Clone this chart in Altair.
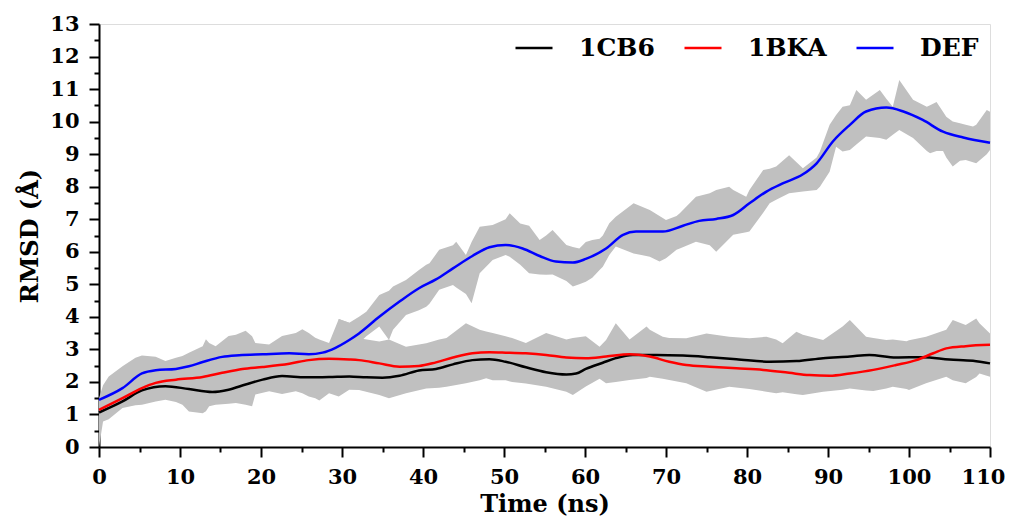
import altair as alt
import pandas as pd

# ---------------- smoothed RMSD curves ----------------
def_t = [0, 2.9, 5.3, 7, 9.5, 11.1, 12.8, 15.2, 17.3, 20.2, 23.5, 25.9, 27.6, 29.2, 30.9,
         32.1, 34.6, 37.1, 39.5, 41.6, 43.7, 46.1, 48.2, 50.2, 52.3, 54.4, 56.4, 58.5, 60.1,
         62.6, 64.7, 66.3, 69.6, 72.1, 74.1, 76.2, 78.3, 80.3, 82.4, 84.4, 86.9, 88.6, 90.6,
         92.7, 94.7, 97.2, 99.3, 101.7, 104.2, 106.7, 110]
def_v = [1.45, 1.81, 2.26, 2.36, 2.40, 2.48, 2.61, 2.77, 2.82, 2.85, 2.88, 2.85, 2.90, 3.05, 3.29,
         3.49, 4.00, 4.47, 4.88, 5.15, 5.49, 5.87, 6.14, 6.21, 6.10, 5.87, 5.70, 5.67, 5.78,
         6.10, 6.52, 6.62, 6.62, 6.80, 6.95, 7.01, 7.13, 7.49, 7.85, 8.10, 8.38, 8.72, 9.39,
         9.90, 10.31, 10.43, 10.31, 10.05, 9.69, 9.51, 9.35]

bka_t = [0, 2.9, 5.3, 7, 9.5, 12.8, 15.2, 17.7, 20.2, 23.5, 25.9, 28.4, 30.9, 32.1, 34.6, 37.1,
         39.5, 41.6, 43.7, 46.1, 48.2, 50.2, 52.7, 55.2, 57.7, 60.1, 62.6, 65.5, 68, 70.4, 72.5,
         75.4, 78.7, 82, 85.2, 87.7, 90.2, 92.7, 95.6, 98.4, 100.9, 103, 104.6, 107, 110]
bka_v = [1.14, 1.50, 1.81, 1.97, 2.07, 2.15, 2.28, 2.40, 2.46, 2.56, 2.67, 2.71, 2.69, 2.67, 2.57, 2.47,
         2.49, 2.60, 2.75, 2.88, 2.91, 2.90, 2.88, 2.83, 2.75, 2.73, 2.78, 2.85, 2.78, 2.62, 2.52,
         2.47, 2.42, 2.37, 2.28, 2.21, 2.19, 2.26, 2.37, 2.52, 2.67, 2.88, 3.03, 3.10, 3.14]

cb6_t = [0, 2.9, 5.3, 8.2, 11.1, 14, 16, 18.1, 20.2, 22.6, 25.5, 28.4, 30.9, 33, 35, 37.1, 39.5,
         41.6, 43.7, 46.1, 48.2, 50.2, 52.7, 55.2, 57.7, 58.9, 60.1, 62.2, 63.8, 65.9, 68.8, 72.1,
         75.4, 78.7, 82.8, 86.1, 89.4, 92.7, 95.1, 98.4, 101.7, 105, 107.9, 110]
cb6_v = [1.06, 1.40, 1.74, 1.87, 1.78, 1.69, 1.76, 1.92, 2.07, 2.18, 2.14, 2.15, 2.17, 2.14, 2.13, 2.19, 2.35,
         2.40, 2.54, 2.67, 2.70, 2.62, 2.45, 2.30, 2.23, 2.26, 2.40, 2.59, 2.73, 2.83, 2.83, 2.81,
         2.76, 2.70, 2.62, 2.64, 2.73, 2.78, 2.83, 2.75, 2.76, 2.69, 2.65, 2.57]

# ---------------- raw-data envelopes (gray) ----------------
low_t = [0, 0.5, 1.2, 2.9, 4.5, 5.3, 7, 8.2, 9.5, 10.3, 11.1, 12.8, 13.2, 13.6, 14.4, 16, 16.9, 18.1,
         18.9, 19.3, 21, 22.6, 24.3, 25.1, 25.9, 26.7, 27.2, 28.4, 29.6, 30.9, 32.1, 34.6, 35.8, 37.9,
         40.4, 42, 42.9, 45.3, 47, 47.8, 48.6, 50.2, 51, 52.7, 55.2, 57.7, 58.5, 60.1, 61.8, 62.6,
         63.8, 65.5, 67.6, 68, 69.6, 70.4, 72.5, 75, 77.8, 80.3, 81.1, 82.4, 83.6, 84.4, 86.1, 86.9,
         89.4, 91.8, 92.7, 94.7, 95.6, 97.2, 98, 99.7, 100, 102.1, 104.6, 105.4, 107, 108.3, 108.7, 110]
low_lo = [0.0, 0.78, 0.85, 1.20, 1.28, 1.30, 1.40, 1.45, 1.38, 1.30, 1.09, 1.04, 1.10, 1.25, 1.30, 1.33, 1.35, 1.30,
          1.25, 1.61, 1.71, 1.63, 1.71, 1.65, 1.55, 1.50, 1.43, 1.65, 1.55, 1.76, 1.75, 1.60, 1.50, 1.65,
          1.80, 1.82, 1.85, 1.96, 2.05, 2.11, 2.05, 2.05, 2.00, 1.95, 1.85, 1.70, 1.60, 1.86, 2.10, 1.96,
          2.00, 2.06, 2.12, 2.16, 2.10, 2.06, 1.96, 1.70, 1.85, 1.78, 1.75, 1.70, 1.65, 1.68, 1.62, 1.60,
          1.70, 1.76, 1.80, 1.74, 1.72, 1.80, 1.85, 1.78, 1.75, 1.96, 2.16, 2.05, 1.96, 2.15, 2.26, 2.16]
low_hi = [1.50, 1.90, 2.17, 2.48, 2.74, 2.81, 2.77, 2.64, 2.74, 2.80, 2.90, 3.10, 3.31, 3.20, 3.10, 3.41, 3.45, 3.57,
          3.40, 3.20, 3.15, 3.41, 3.50, 3.62, 3.50, 3.36, 3.30, 3.20, 3.93, 3.82, 3.34, 3.24, 3.30, 3.08,
          3.19, 3.30, 3.35, 3.80, 3.60, 3.55, 3.50, 3.40, 3.35, 3.20, 3.50, 3.30, 3.35, 3.40, 3.08, 3.29,
          3.80, 3.30, 3.70, 3.60, 3.39, 3.35, 3.34, 3.49, 3.39, 3.34, 3.36, 3.39, 3.30, 3.19, 3.54, 3.45,
          3.29, 3.70, 3.90, 3.39, 3.35, 3.29, 3.30, 3.25, 3.28, 3.39, 3.60, 3.90, 3.75, 3.95, 3.80, 3.49]

def_band_t = [29.6, 30.9, 32.1, 33, 34.6, 35.8, 36.3, 37.9, 39.5, 40.4, 40.8, 42, 43.7, 44.1, 45.3, 46,
              47, 48.6, 50.2, 50.7, 52, 53.1, 54.4, 55.2, 56, 57.7, 58.5, 59.3, 60.1, 60.9, 61.8, 62.2,
              63, 63.8, 66, 68, 69.2, 70, 71.3, 71.7, 73.7, 75.4, 76.2, 77.8, 78.3, 79.9, 80.3, 82,
              82.8, 83.6, 85.2, 86.9, 88.6, 89, 90.2, 91, 91.8, 92.7, 93.5, 94.7, 96.4, 97.2, 98, 98.8,
              100.5, 102.2, 102.6, 103.4, 104.2, 104.6, 105.4, 106.3, 107, 107.9, 108.3, 109.6, 110]
def_band_lo = [2.90, 3.00, 3.19, 3.40, 3.70, 3.29, 3.60, 4.06, 4.20, 4.31, 4.40, 4.83, 4.98, 4.90, 4.70, 4.42,
               5.34, 5.75, 5.90, 5.85, 5.60, 5.34, 5.30, 5.29, 5.30, 5.10, 4.93, 5.00, 5.08, 5.20, 5.44, 5.54,
               5.90, 6.16, 5.95, 5.85, 5.70, 5.80, 6.06, 6.10, 6.31, 6.20, 6.00, 6.40, 6.52, 6.60, 6.62, 7.20,
               7.49, 7.60, 7.80, 7.85, 7.90, 8.00, 8.46, 9.23, 9.08, 9.13, 9.30, 9.54, 9.50, 9.44, 9.60, 9.74,
               9.50, 9.10, 9.03, 9.10, 9.10, 8.90, 8.62, 8.80, 8.82, 8.75, 8.72, 9.00, 9.13]
def_band_hi = [3.93, 3.82, 4.00, 4.16, 4.67, 4.80, 4.93, 5.13, 5.44, 5.60, 5.65, 6.06, 6.20, 6.31, 5.90, 6.30,
               6.77, 6.82, 7.00, 7.18, 6.87, 6.80, 6.36, 6.50, 6.67, 6.21, 6.15, 6.10, 6.30, 6.36, 6.40, 6.50,
               6.88, 7.08, 7.49, 7.28, 7.10, 6.98, 7.10, 7.18, 7.69, 7.80, 7.90, 8.00, 7.90, 7.69, 7.90, 8.51,
               8.55, 8.62, 8.97, 8.57, 8.90, 9.08, 9.90, 10.20, 10.46, 10.50, 10.97, 10.67, 10.97, 10.70, 10.46, 11.28,
               10.67, 10.46, 10.50, 10.60, 10.30, 10.15, 10.00, 9.95, 9.90, 9.85, 9.90, 10.36, 10.30]

series_names = ["1CB6", "1BKA", "DEF"]
series_colors = ["#000000", "#ff0000", "#0000ff"]
x_major = list(range(0, 111, 10))
x_minor = list(range(5, 110, 10))
y_major = list(range(0, 14))
y_minor = [i + 0.5 for i in range(0, 13)]

lines_df = pd.concat([
    pd.DataFrame({"t": cb6_t, "v": cb6_v, "s": "1CB6"}),
    pd.DataFrame({"t": bka_t, "v": bka_v, "s": "1BKA"}),
    pd.DataFrame({"t": def_t, "v": def_v, "s": "DEF"}),
], ignore_index=True)
low_df = pd.DataFrame({"t": low_t, "lo": low_lo, "hi": low_hi})
defb_df = pd.DataFrame({"t": def_band_t, "lo": def_band_lo, "hi": def_band_hi})

FONT = "DejaVu Serif"
xs = alt.Scale(domain=[0, 110], nice=False, zero=False)
ys = alt.Scale(domain=[0, 13], nice=False, zero=False)

x_axis = alt.Axis(values=x_major, tickSize=10, orient="bottom", title="Time (ns)",
                  labelFont=FONT, labelFontSize=21, labelFontWeight="bold", labelColor="black",
                  labelPadding=9, titleFont=FONT, titleFontSize=24, titleFontWeight="bold",
                  titleColor="black", titlePadding=5, grid=False, domainColor="black",
                  domainWidth=2, tickColor="black", tickWidth=2, labelFlush=False,
                  labelOffset={"condition": {"test": "datum.value == 110", "value": -7}, "value": 0})
y_axis = alt.Axis(values=y_major, tickSize=10, orient="left", title="RMSD (Å)",
                  labelFont=FONT, labelFontSize=21, labelFontWeight="bold", labelColor="black",
                  labelPadding=10, titleFont=FONT, titleFontSize=24, titleFontWeight="bold",
                  titleColor="black", titlePadding=7, grid=False, domainColor="black",
                  domainWidth=2, tickColor="black", tickWidth=2, labelFlush=False)

band_low = alt.Chart(low_df).mark_area(color="#c0c0c0", opacity=1).encode(
    x=alt.X("t:Q", scale=xs, axis=x_axis),
    y=alt.Y("lo:Q", scale=ys, axis=y_axis),
    y2="hi:Q",
)
band_def = alt.Chart(defb_df).mark_area(color="#c0c0c0", opacity=1).encode(
    x=alt.X("t:Q", scale=xs, axis=None),
    y=alt.Y("lo:Q", scale=ys, axis=None),
    y2="hi:Q",
)
lines = alt.Chart(lines_df).mark_line(strokeWidth=2.5, interpolate="monotone").encode(
    x=alt.X("t:Q", scale=xs, axis=None),
    y=alt.Y("v:Q", scale=ys, axis=None),
    color=alt.Color("s:N", scale=alt.Scale(domain=series_names, range=series_colors),
                    sort=series_names,
                    legend=alt.Legend(title=None, orient="none", legendX=415, legendY=4,
                                      direction="horizontal",
                                      symbolType="stroke", symbolSize=1369,
                                      symbolStrokeWidth=2.5, labelFont=FONT, labelFontSize=25,
                                      labelFontWeight="bold", labelColor="black", labelOffset=25,
                                      columnPadding=24, padding=0)),
    detail="s:N",
)
minor = alt.Chart(low_df).mark_point(opacity=0).encode(
    x=alt.X("t:Q", scale=xs, axis=alt.Axis(values=x_minor, tickSize=5, orient="bottom",
                                           labels=False, title=None, domain=False, grid=False,
                                           tickColor="black", tickWidth=2)),
    y=alt.Y("lo:Q", scale=ys, axis=alt.Axis(values=y_minor, tickSize=5, orient="left",
                                            labels=False, title=None, domain=False, grid=False,
                                            tickColor="black", tickWidth=2)),
)

chart = alt.layer(band_low, band_def, lines, minor).resolve_axis(
    x="independent", y="independent"
).properties(
    width=891, height=423,
    autosize=alt.AutoSizeParams(type="none"),
    padding={"left": 91, "top": 16, "right": 15, "bottom": 72},
).configure_view(stroke="black", strokeWidth=2).configure(background="white")

chart.save("out.html", embed_options={"renderer": "svg", "actions": False})
